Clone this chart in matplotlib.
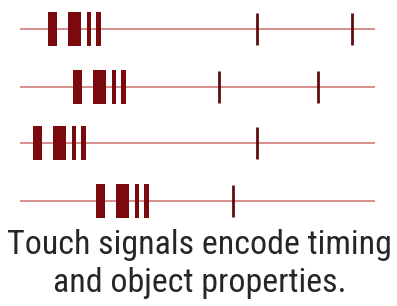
import matplotlib
matplotlib.use("Agg")
import matplotlib.pyplot as plt
from matplotlib import font_manager
from matplotlib.font_manager import FontProperties

# one row per touch signal, positions in the picture's x units
row_y = [29, 87, 143, 201]
line_start = 20
line_end = 375

# burst of four bars at the start of each signal: (start, width)
burst_offsets = [0, 20, 39, 47.5]
burst_widths = [9, 13, 3.5, 5.5]
burst_starts = [48, 73, 33, 96]

# single thin spikes later in each signal
spikes = [[257, 352], [219, 318], [257], [233]]

caption_lines = ["Touch signals encode timing", "and object properties."]

bar_color = "#7a0a0e"
spike_color = "#5c0d12"
line_color = "#cf7a78"


def pick_font():
    # want a narrow sans, the caption is set in a condensed face
    narrow = []
    for f in font_manager.fontManager.ttflist:
        if f.style != "normal" or f.weight not in (400, "normal", "regular"):
            continue
        if f.stretch in ("condensed", "semi-condensed") or "Narrow" in f.name or "Condensed" in f.name:
            narrow.append(f)
    order = ["Liberation Sans Narrow", "Roboto Condensed", "Open Sans Condensed",
             "Noto Sans", "DejaVu Sans"]
    for name in order:
        for f in narrow:
            if f.name == name:
                return FontProperties(fname=f.fname)
    if narrow:
        return FontProperties(fname=narrow[0].fname)
    return FontProperties(family="Roboto")


fig = plt.figure(figsize=(3.97, 3.06), dpi=100)
ax = fig.add_axes([0, 0, 1, 1])
ax.set_xlim(0, 397)
ax.set_ylim(306, 0)
ax.axis("off")

half = 17
for i, y in enumerate(row_y):
    ax.hlines(y, line_start, line_end, color=line_color, lw=1.2, zorder=1)
    segs = [(burst_starts[i] + o, w) for o, w in zip(burst_offsets, burst_widths)]
    ax.broken_barh(segs, (y - half, 2 * half), facecolors=bar_color, zorder=2)
    ax.vlines(spikes[i], y - 16, y + 16, color=spike_color, lw=2.0, zorder=3)

fp = pick_font()
size = 24
t1 = ax.text(199.5, 254, caption_lines[0], ha="center", va="baseline",
             fontproperties=fp, fontsize=size, color="#262626")
t2 = ax.text(199.5, 292, caption_lines[1], ha="center", va="baseline",
             fontproperties=fp, fontsize=size, color="#262626")

# scale the caption so the first line has the width it has in the reference
renderer = fig.canvas.get_renderer()
w = t1.get_window_extent(renderer).width
size = size * 385 / w
t1.set_fontsize(size)
t2.set_fontsize(size)

fig.savefig("out.png", dpi=100)
